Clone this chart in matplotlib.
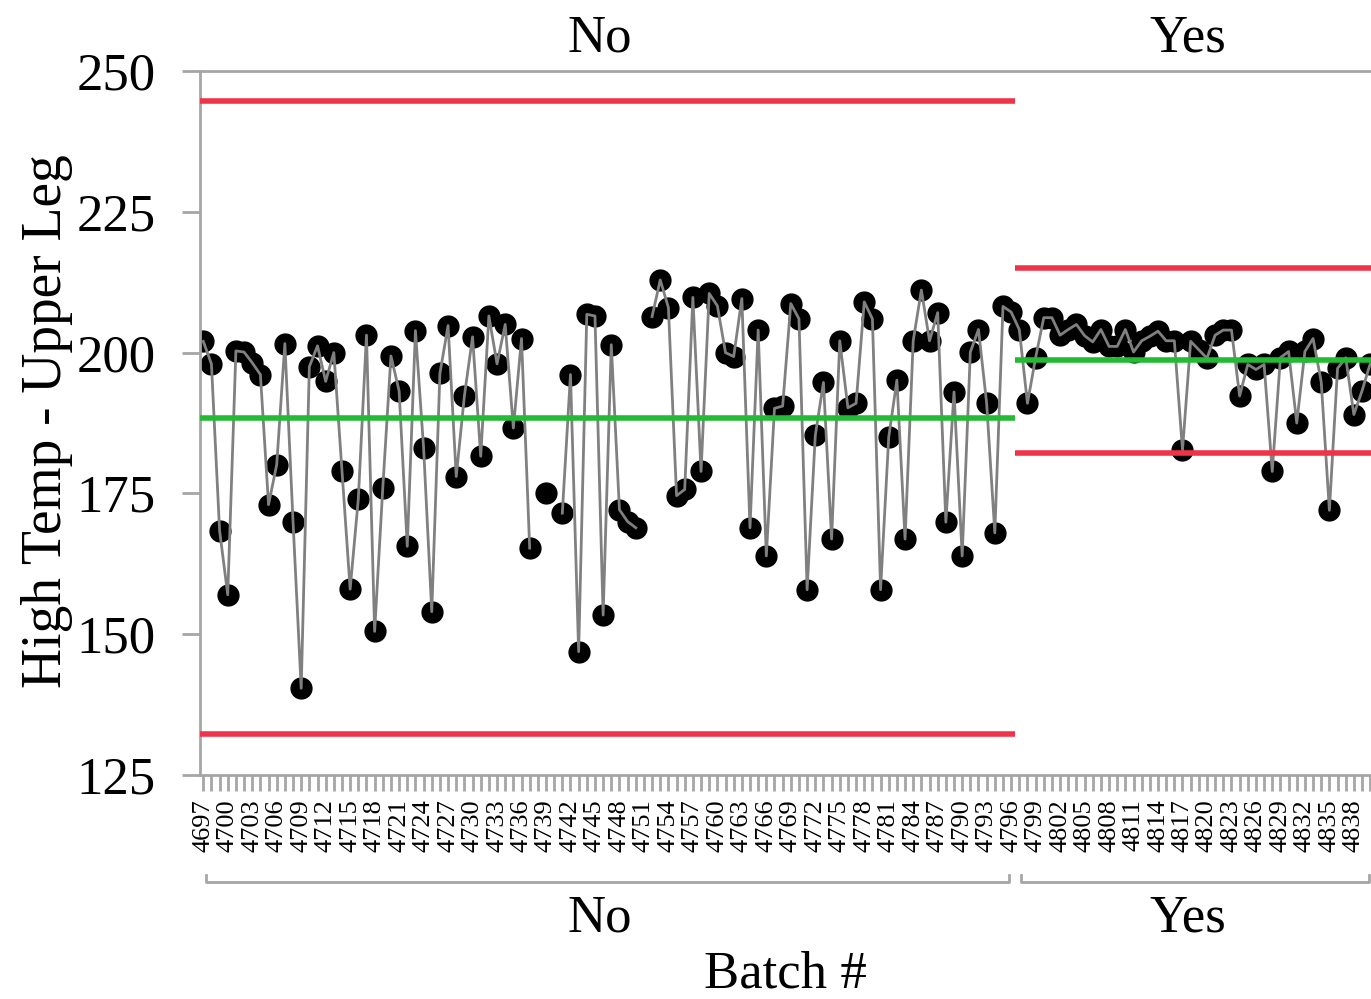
import numpy as np
import matplotlib
matplotlib.use("Agg")
import matplotlib.pyplot as plt
from matplotlib.transforms import blended_transform_factory

# ---------------- data ----------------
batches_no = list(range(4697, 4797))
values_no = [
    202.0, 198.0, 168.4, 157.0, 200.3, 200.1, 198.2, 196.1, 173.0, 180.1,
    201.6, 170.0, 140.4, 197.5, 201.2, 194.9, 200.0, 178.9, 158.0, 174.0,
    203.1, 150.5, 176.0, 199.4, 193.2, 165.6, 203.9, 183.1, 154.0, 196.3,
    204.8, 178.0, 192.3, 202.8, 181.6, 206.5, 198.0, 205.0, 186.6, 202.5,
    165.3, np.nan, 175.1, np.nan, 171.5, 196.1, 146.9, 206.8, 206.5, 153.4,
    201.4, 172.1, 170.0, 168.9, np.nan, 206.4, 212.9, 208.0, 174.6, 175.7,
    209.8, 178.9, 210.5, 208.3, 200.0, 199.3, 209.6, 168.9, 204.0, 163.9,
    190.1, 190.5, 208.7, 206.0, 157.9, 185.3, 194.7, 166.9, 202.1, 190.2,
    191.0, 209.0, 206.0, 157.9, 185.0, 195.1, 166.9, 202.1, 211.1, 202.1,
    207.1, 169.9, 193.0, 163.9, 200.1, 204.1, 191.0, 168.0, 208.2, 207.2,
]
batches_yes = list(range(4797, 4841))
values_yes = [
    204.1, 191.0, 199.1, 206.2, 206.2, 203.1, 204.1, 205.0, 203.0, 201.9,
    204.1, 201.1, 201.1, 204.1, 200.1, 202.1, 202.9, 203.8, 202.1, 202.1,
    182.7, 202.0, 200.5, 199.0, 203.1, 204.0, 204.0, 192.3, 197.9, 197.0,
    197.9, 178.9, 199.1, 200.2, 187.5, 200.2, 202.5, 194.8, 172.0, 197.2,
    199.1, 189.0, 193.2, 198.0,
]
phases = ["No", "Yes"]
lcl = [132.2, 182.1]
center = [188.4, 198.6]
ucl = [244.6, 215.1]
y_ticks = [125, 150, 175, 200, 225, 250]
all_batches = batches_no + batches_yes
tick_labels = [str(b) if (b - 4697) % 3 == 0 else "" for b in all_batches]

# ---------------- style ----------------
plt.rcParams["font.family"] = ["Liberation Serif", "DejaVu Serif"]
GRAY = "#a6a6a6"
RED = "#ef3349"
GREEN = "#22bb33"
W, H = 1371, 999

fig = plt.figure(figsize=(W / 100, H / 100), dpi=100)
ax = fig.add_axes([200 / W, 1 - 775 / H, 1 - 200 / W, (775 - 71) / H])

x_lo, x_hi, split = 4696.6, 4840.1, 4796.5
ax.set_xlim(x_lo, x_hi)
ax.set_ylim(125, 250)

x_all = np.array(all_batches, dtype=float)
y_all = np.array(values_no + values_yes, dtype=float)

ax.plot(x_all, y_all, "o", ms=15, color="black", zorder=2)
ax.plot(x_all, y_all, "-", lw=2, color="#808080", zorder=3)

ranges = [(x_lo, split), (split, x_hi)]
for (a, b), lo, c, hi in zip(ranges, lcl, center, ucl):
    ax.hlines([lo, hi], a, b, color=RED, lw=4, zorder=4)
    ax.hlines(c, a, b, color=GREEN, lw=4, zorder=4)

# axes frame
for s in ["left", "bottom", "top"]:
    ax.spines[s].set_color(GRAY)
    ax.spines[s].set_linewidth(2)
ax.spines["right"].set_visible(False)

ax.set_yticks(y_ticks)
ax.set_yticklabels([str(v) for v in y_ticks], fontsize=38)
ax.tick_params(axis="y", color=GRAY, width=2, length=13, pad=19)

ax.set_xticks(all_batches)
ax.set_xticklabels(tick_labels, rotation=90, fontsize=19)
ax.tick_params(axis="x", color=GRAY, width=2, length=11.5, pad=6)

# y label
fig.text(47 / W, 1 - 421 / H, "High Temp - Upper Leg", rotation=90,
         ha="center", va="center", fontsize=40)

# phase headers (top) and group labels (bottom)
trans = blended_transform_factory(ax.transData, fig.transFigure)
mids = [4745.6, 4817.7]
for name, m in zip(phases, mids):
    ax.text(m, 1 - 52 / H, name, transform=trans, ha="center",
            va="baseline", fontsize=38, clip_on=False)
    ax.text(m, 1 - 931 / H, name, transform=trans, ha="center",
            va="baseline", fontsize=38, clip_on=False)

# brackets
yb = 1 - 882 / H
yt = 1 - 875 / H
for a, b in [(x_lo + 0.75, split - 0.75), (split + 0.75, x_hi - 0.2)]:
    ax.plot([a, a, b, b], [yt, yb, yb, yt], color=GRAY, lw=2,
            transform=trans, clip_on=False)

fig.text(785 / W, 1 - 988 / H, "Batch #", ha="center", va="baseline",
         fontsize=38)

fig.savefig("out.png", dpi=100)
